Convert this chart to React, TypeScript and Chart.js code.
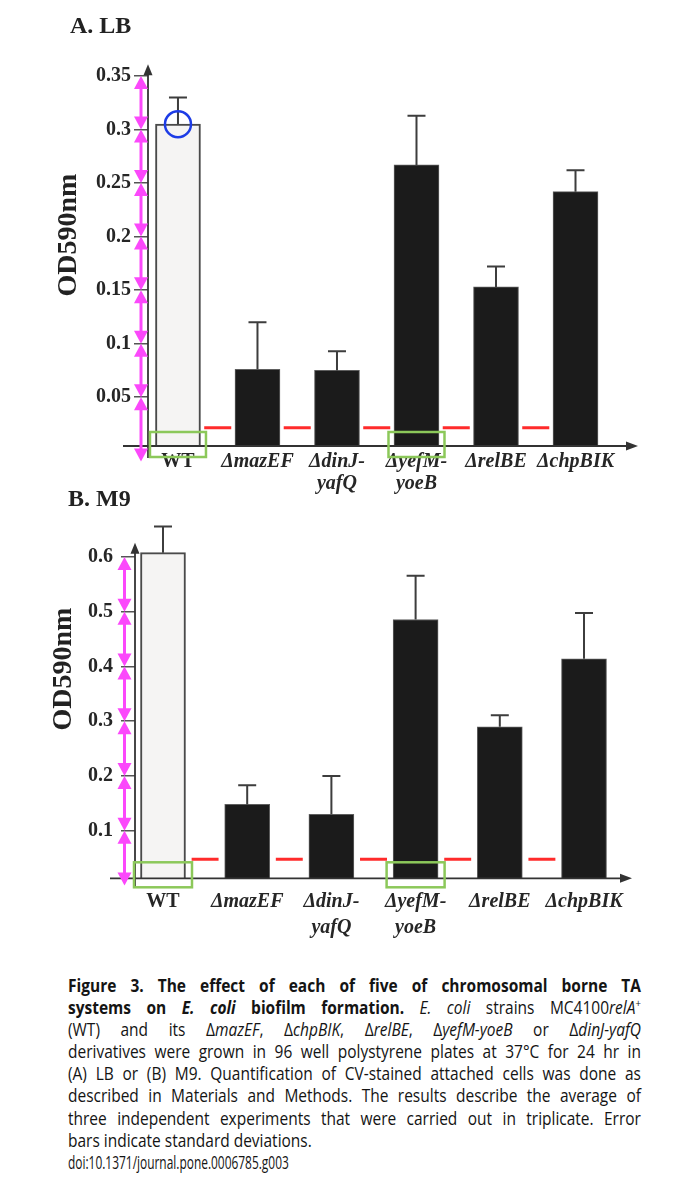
import React, { useEffect, useRef } from 'react';
import { Chart, registerables } from 'chart.js';

Chart.register(...registerables);

// ---------- data ----------
const categories: (string | string[])[] = ['WT', 'ΔmazEF', ['ΔdinJ-', 'yafQ'], ['ΔyefM-', 'yoeB'], 'ΔrelBE', 'ΔchpBIK'];

const lbValues = [0.305, 0.076, 0.075, 0.267, 0.153, 0.242];
const lbErrors = [0.025, 0.044, 0.018, 0.046, 0.019, 0.020];
const lbTicks = [0.05, 0.1, 0.15, 0.2, 0.25, 0.3, 0.35];
const lbArrowStops = [0.35, 0.3, 0.25, 0.2, 0.15, 0.1, 0.05, -0.01];
const lbDashLevel = 0.0215;

const m9Values = [0.608, 0.148, 0.13, 0.486, 0.29, 0.414];
const m9Errors = [0.048, 0.035, 0.07, 0.08, 0.021, 0.084];
const m9Ticks = [0.1, 0.2, 0.3, 0.4, 0.5, 0.6];
const m9ArrowStops = [0.6, 0.5, 0.4, 0.3, 0.2, 0.1, 0];
const m9DashLevel = 0.048;

const boxedBars = [0, 3];
const yTitle = 'OD590nm';

// ---------- styling / layout ----------
const SERIF = "'Liberation Serif', 'Times New Roman', serif";
const MAGENTA = '#fb48fb';
const GREEN = '#8cc85a';
const RED = '#ff2b2b';
const BLUE = '#1d3ce6';

type Panel = {
  values: number[]; errors: number[]; ticks: number[]; arrowStops: number[]; dashLevel: number;
  yMin: number; yMax: number; xMin: number; xMax: number; axisTop: number;
  canvasH: number; padTop: number; padRight: number; yScaleW: number; xScaleH: number;
  tickPad: number; titlePad: number; labelPad: number; labelLH: number;
  arrowOffset: number; axisBelow: number; axisLeftExt: number; dashHalf: number; barW: number;
  boxTop: number; boxBottom: number; boxHalf: number; circle: boolean;
};

const panelA: Panel = {
  values: lbValues, errors: lbErrors, ticks: lbTicks, arrowStops: lbArrowStops, dashLevel: lbDashLevel,
  yMin: 0.0044, yMax: 0.3986, xMin: -0.377, xMax: 5.786, axisTop: 0.361,
  canvasH: 490, padTop: 16, padRight: 32, yScaleW: 140, xScaleH: 52,
  tickPad: 3, titlePad: 44, labelPad: 5, labelLH: 1.08,
  arrowOffset: 7, axisBelow: 12, axisLeftExt: 25, dashHalf: 0.17, barW: 45,
  boxTop: 14, boxBottom: 11, boxHalf: 28, circle: true,
};

const panelB: Panel = {
  values: m9Values, errors: m9Errors, ticks: m9Ticks, arrowStops: m9ArrowStops, dashLevel: m9DashLevel,
  yMin: 0.013, yMax: 0.7774, xMin: -0.3325, xMax: 5.57, axisTop: 0.626,
  canvasH: 500, padTop: 13, padRight: 38, yScaleW: 127, xScaleH: 61.7,
  tickPad: 8, titlePad: 38.7, labelPad: 10.4, labelLH: 1.3,
  arrowOffset: 10.5, axisBelow: 9, axisLeftExt: 25, dashHalf: 0.16, barW: 45,
  boxTop: 16, boxBottom: 9, boxHalf: 29, circle: false,
};

function buildConfig(p: Panel): any {
  const idx = p.values.map((_, i) => i);
  const dashData: any[] = [];
  for (let i = 0; i < p.values.length - 1; i++) {
    dashData.push({ x: i + 0.5 - p.dashHalf, y: p.dashLevel });
    dashData.push({ x: i + 0.5 + p.dashHalf, y: p.dashLevel });
    dashData.push({ x: i + 0.5 + p.dashHalf + 0.01, y: null });
  }

  const decor = {
    id: 'figureDecor',
    afterDatasetsDraw(chart: any) {
      const { ctx, chartArea: a } = chart;
      const x = chart.scales.x;
      const y = chart.scales.y;
      ctx.save();

      // axes with arrow heads
      ctx.strokeStyle = '#333';
      ctx.fillStyle = '#333';
      ctx.lineWidth = 1.8;
      const tipY = y.getPixelForValue(p.axisTop);
      ctx.beginPath();
      ctx.moveTo(a.left, a.bottom + p.axisBelow);
      ctx.lineTo(a.left, tipY + 8);
      ctx.stroke();
      ctx.beginPath();
      ctx.moveTo(a.left, tipY);
      ctx.lineTo(a.left - 4.5, tipY + 11);
      ctx.lineTo(a.left + 4.5, tipY + 11);
      ctx.closePath();
      ctx.fill();
      ctx.beginPath();
      ctx.moveTo(a.left - p.axisLeftExt, a.bottom);
      ctx.lineTo(a.right - 8, a.bottom);
      ctx.stroke();
      ctx.beginPath();
      ctx.moveTo(a.right, a.bottom);
      ctx.lineTo(a.right - 12, a.bottom - 4.5);
      ctx.lineTo(a.right - 12, a.bottom + 4.5);
      ctx.closePath();
      ctx.fill();

      // error bars (upper only)
      ctx.strokeStyle = '#3d3d3d';
      ctx.lineWidth = 2;
      p.values.forEach((v, i) => {
        const cx = x.getPixelForValue(i);
        const top = y.getPixelForValue(v);
        const cap = y.getPixelForValue(v + p.errors[i]);
        ctx.beginPath();
        ctx.moveTo(cx, top);
        ctx.lineTo(cx, cap);
        ctx.moveTo(cx - 9, cap);
        ctx.lineTo(cx + 9, cap);
        ctx.stroke();
      });

      // magenta double arrows between tick levels
      const ax = a.left - p.arrowOffset;
      ctx.strokeStyle = MAGENTA;
      ctx.fillStyle = MAGENTA;
      ctx.lineWidth = 3;
      for (let k = 0; k < p.arrowStops.length - 1; k++) {
        const y1 = y.getPixelForValue(p.arrowStops[k]);
        const y2 = y.getPixelForValue(p.arrowStops[k + 1]);
        const hl = Math.min(13, (y2 - y1) / 2.4);
        ctx.beginPath();
        ctx.moveTo(ax, y1 + hl - 1);
        ctx.lineTo(ax, y2 - hl + 1);
        ctx.stroke();
        ctx.beginPath();
        ctx.moveTo(ax, y1);
        ctx.lineTo(ax - 7, y1 + hl);
        ctx.lineTo(ax + 7, y1 + hl);
        ctx.closePath();
        ctx.fill();
        ctx.beginPath();
        ctx.moveTo(ax, y2);
        ctx.lineTo(ax - 7, y2 - hl);
        ctx.lineTo(ax + 7, y2 - hl);
        ctx.closePath();
        ctx.fill();
      }

      // green boxes at the bar bases
      ctx.strokeStyle = GREEN;
      ctx.lineWidth = 2.5;
      boxedBars.forEach((i) => {
        const cx = x.getPixelForValue(i);
        ctx.strokeRect(cx - p.boxHalf, a.bottom - p.boxTop, p.boxHalf * 2, p.boxTop + p.boxBottom);
      });

      // blue circle at the top of the WT bar
      if (p.circle) {
        ctx.strokeStyle = BLUE;
        ctx.lineWidth = 2.5;
        ctx.beginPath();
        ctx.arc(x.getPixelForValue(0), y.getPixelForValue(p.values[0]), 13, 0, Math.PI * 2);
        ctx.stroke();
      }
      ctx.restore();
    },
  };

  return {
    type: 'bar',
    data: {
      datasets: [
        {
          type: 'line',
          data: dashData,
          borderColor: RED,
          borderWidth: 3,
          pointRadius: 0,
          spanGaps: false,
          order: 0,
        },
        {
          type: 'bar',
          data: p.values.map((v, i) => ({ x: i, y: v })),
          barThickness: p.barW,
          backgroundColor: p.values.map((_, i) => (i === 0 ? '#f5f4f3' : '#1b1b1b')),
          borderColor: p.values.map((_, i) => (i === 0 ? '#4a4a4a' : '#5e5e5e')),
          borderWidth: p.values.map((_, i) => (i === 0 ? 2 : 1)),
          borderSkipped: false,
          order: 1,
        },
      ],
    },
    options: {
      responsive: false,
      animation: false,
      events: [],
      layout: { padding: { top: p.padTop, right: p.padRight, bottom: 0, left: 0 } },
      plugins: { legend: { display: false }, tooltip: { enabled: false } },
      scales: {
        x: {
          type: 'linear',
          offset: false,
          min: p.xMin,
          max: p.xMax,
          afterBuildTicks: (scale: any) => {
            scale.ticks = idx.map((v) => ({ value: v }));
          },
          afterFit: (scale: any) => {
            scale.height = p.xScaleH;
          },
          grid: { display: false, drawTicks: false },
          border: { display: false },
          ticks: {
            autoSkip: false,
            maxRotation: 0,
            minRotation: 0,
            padding: p.labelPad,
            color: '#262626',
            callback: (value: number) => categories[value],
            font: (ctx: any) => ({
              family: SERIF,
              size: 20,
              weight: 'bold',
              style: ctx.index === 0 ? 'normal' : 'italic',
              lineHeight: p.labelLH,
            }),
          },
        },
        y: {
          type: 'linear',
          min: p.yMin,
          max: p.yMax,
          afterBuildTicks: (scale: any) => {
            scale.ticks = p.ticks.map((v) => ({ value: v }));
          },
          afterFit: (scale: any) => {
            scale.width = p.yScaleW;
          },
          grid: { display: true, drawOnChartArea: false, drawTicks: true, tickLength: 14, color: '#555', lineWidth: 1.5 },
          border: { display: false },
          ticks: {
            autoSkip: false,
            padding: p.tickPad,
            color: '#262626',
            callback: (value: number) => String(value),
            font: { family: SERIF, size: 20, weight: 'bold' },
          },
          title: {
            display: true,
            text: yTitle,
            color: '#222',
            padding: { top: p.titlePad, bottom: 0 },
            font: { family: SERIF, size: 28, weight: 'bold', lineHeight: 1.2 },
          },
        },
      },
    },
    plugins: [decor],
  };
}

function PanelChart({ spec, top }: { spec: Panel; top: number }) {
  const ref = useRef<HTMLCanvasElement>(null);
  useEffect(() => {
    const chart = new Chart(ref.current as HTMLCanvasElement, buildConfig(spec));
    return () => chart.destroy();
  }, [spec]);
  return (
    <canvas
      ref={ref}
      width={662}
      height={spec.canvasH}
      style={{ position: 'absolute', left: 0, top, width: 662, height: spec.canvasH }}
    />
  );
}

// justified caption line: words spread edge to edge, never wrapping
function JLine({ words }: { words: React.ReactNode[] }) {
  return (
    <div style={{ display: 'flex', justifyContent: 'space-between', whiteSpace: 'nowrap' }}>
      {words.map((w, i) => (
        <span key={i} style={{ whiteSpace: 'pre' }}>
          {w}
          {i < words.length - 1 ? ' ' : ''}
        </span>
      ))}
    </div>
  );
}

const split = (s: string) => s.split(' ');
const SUP: React.CSSProperties = { fontSize: '0.62em', verticalAlign: 'super', lineHeight: 0 };
const panelTitle: React.CSSProperties = {
  position: 'absolute',
  fontFamily: SERIF,
  fontWeight: 'bold',
  fontSize: 24,
  lineHeight: '24px',
  color: '#222',
  whiteSpace: 'nowrap',
};

const CAP_SCALE = 0.86;

export default function App() {
  const b = (s: string) => split(s).map((w, i) => <b key={i}>{w}</b>);
  return (
    <div style={{ position: 'relative', width: 662, height: 1174, background: '#fff' }}>
      <PanelChart spec={panelA} top={0} />
      <PanelChart spec={panelB} top={432} />
      <div style={{ ...panelTitle, left: 62, top: 4.5 }}>A. LB</div>
      <div style={{ ...panelTitle, left: 60, top: 478 }}>B. M9</div>
      <div
        style={{
          position: 'absolute',
          left: 60,
          top: 966,
          width: 573 / CAP_SCALE,
          transform: `scaleX(${CAP_SCALE})`,
          transformOrigin: '0 0',
          fontFamily: "'Open Sans', 'Noto Sans', sans-serif",
          fontSize: 18,
          lineHeight: '22.1px',
          color: '#141414',
        }}
      >
        <JLine words={b('Figure 3. The effect of each of five of chromosomal borne TA')} />
        <JLine
          words={[
            ...b('systems on'),
            <b><i>E.</i></b>,
            <b><i>coli</i></b>,
            ...b('biofilm formation.'),
            <i>E.</i>,
            <i>coli</i>,
            'strains',
            <>MC4100<i>relA</i><span style={SUP}>+</span></>,
          ]}
        />
        <JLine
          words={[
            '(WT)', 'and', 'its',
            <>Δ<i>mazEF</i>,</>,
            <>Δ<i>chpBIK</i>,</>,
            <>Δ<i>relBE</i>,</>,
            <>Δ<i>yefM-yoeB</i></>,
            'or',
            <>Δ<i>dinJ-yafQ</i></>,
          ]}
        />
        <JLine words={split('derivatives were grown in 96 well polystyrene plates at 37°C for 24 hr in')} />
        <JLine words={split('(A) LB or (B) M9. Quantification of CV-stained attached cells was done as')} />
        <JLine words={split('described in Materials and Methods. The results describe the average of')} />
        <JLine words={split('three independent experiments that were carried out in triplicate. Error')} />
        <div>bars indicate standard deviations.</div>
        <div>
          <span style={{ display: 'inline-block', transform: 'scaleX(0.77)', transformOrigin: '0 0' }}>
            doi:10.1371/journal.pone.0006785.g003
          </span>
        </div>
      </div>
    </div>
  );
}
